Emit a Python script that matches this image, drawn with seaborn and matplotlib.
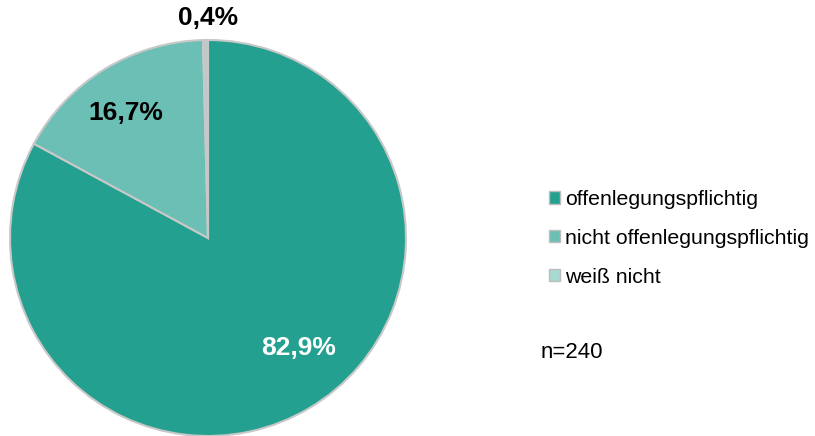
import matplotlib
matplotlib.use("Agg")
import matplotlib.pyplot as plt
import matplotlib.patches as mpatches
import seaborn as sns

categories = ["offenlegungspflichtig", "nicht offenlegungspflichtig", "weiß nicht"]
values = [82.9, 16.7, 0.4]
value_labels = ["82,9%", "16,7%", "0,4%"]
slice_colors = ["#23a08f", "#6bbfb4", "#bfc9c7"]
legend_colors = ["#23a08f", "#6bbfb4", "#a8d8d2"]
sample_note = "n=240"

sns.set_theme(style="white")
plt.rcParams["font.family"] = ["Liberation Sans", "DejaVu Sans"]
plt.rcParams["text.color"] = "black"

fig = plt.figure(figsize=(8.15, 4.36), dpi=100)

# pie area: centre ~(208, 238) px, radius ~198 px
W, H = 815, 436
cx, cy, r = 208, 238, 198
ax = fig.add_axes([(cx - r) / W, (H - cy - r) / H, 2 * r / W, 2 * r / H])

wedges, _ = ax.pie(
    values,
    colors=slice_colors,
    startangle=90,
    counterclock=False,
    radius=1.0,
    wedgeprops=dict(edgecolor="#c8c8c8", linewidth=1.5),
)
ax.set_xlim(-1, 1)
ax.set_ylim(-1, 1)
ax.set_aspect("equal")
ax.axis("off")

# percentage labels
label_pos = [(299, 348), (126, 113), (208, 18)]
label_cols = ["white", "black", "black"]
for (px, py), txt, col in zip(label_pos, value_labels, label_cols):
    fig.text(px / W, 1 - py / H, txt, ha="center", va="center",
             fontsize=19, fontweight="bold", color=col)

handles = [mpatches.Patch(facecolor=c, edgecolor="#bdbdbd", linewidth=1.0)
           for c in legend_colors]
fig.legend(handles, categories, loc="upper left",
           bbox_to_anchor=(549 / W, 1 - 190 / H), frameon=False,
           fontsize=15.3, handlelength=0.52, handleheight=0.52,
           handletextpad=0.22, labelspacing=0.93, borderaxespad=0,
           borderpad=0, labelcolor="black")

fig.text(541 / W, 1 - 352 / H, sample_note, ha="left", va="center",
         fontsize=16, color="black")

fig.savefig("out.png", dpi=100, facecolor="white")
